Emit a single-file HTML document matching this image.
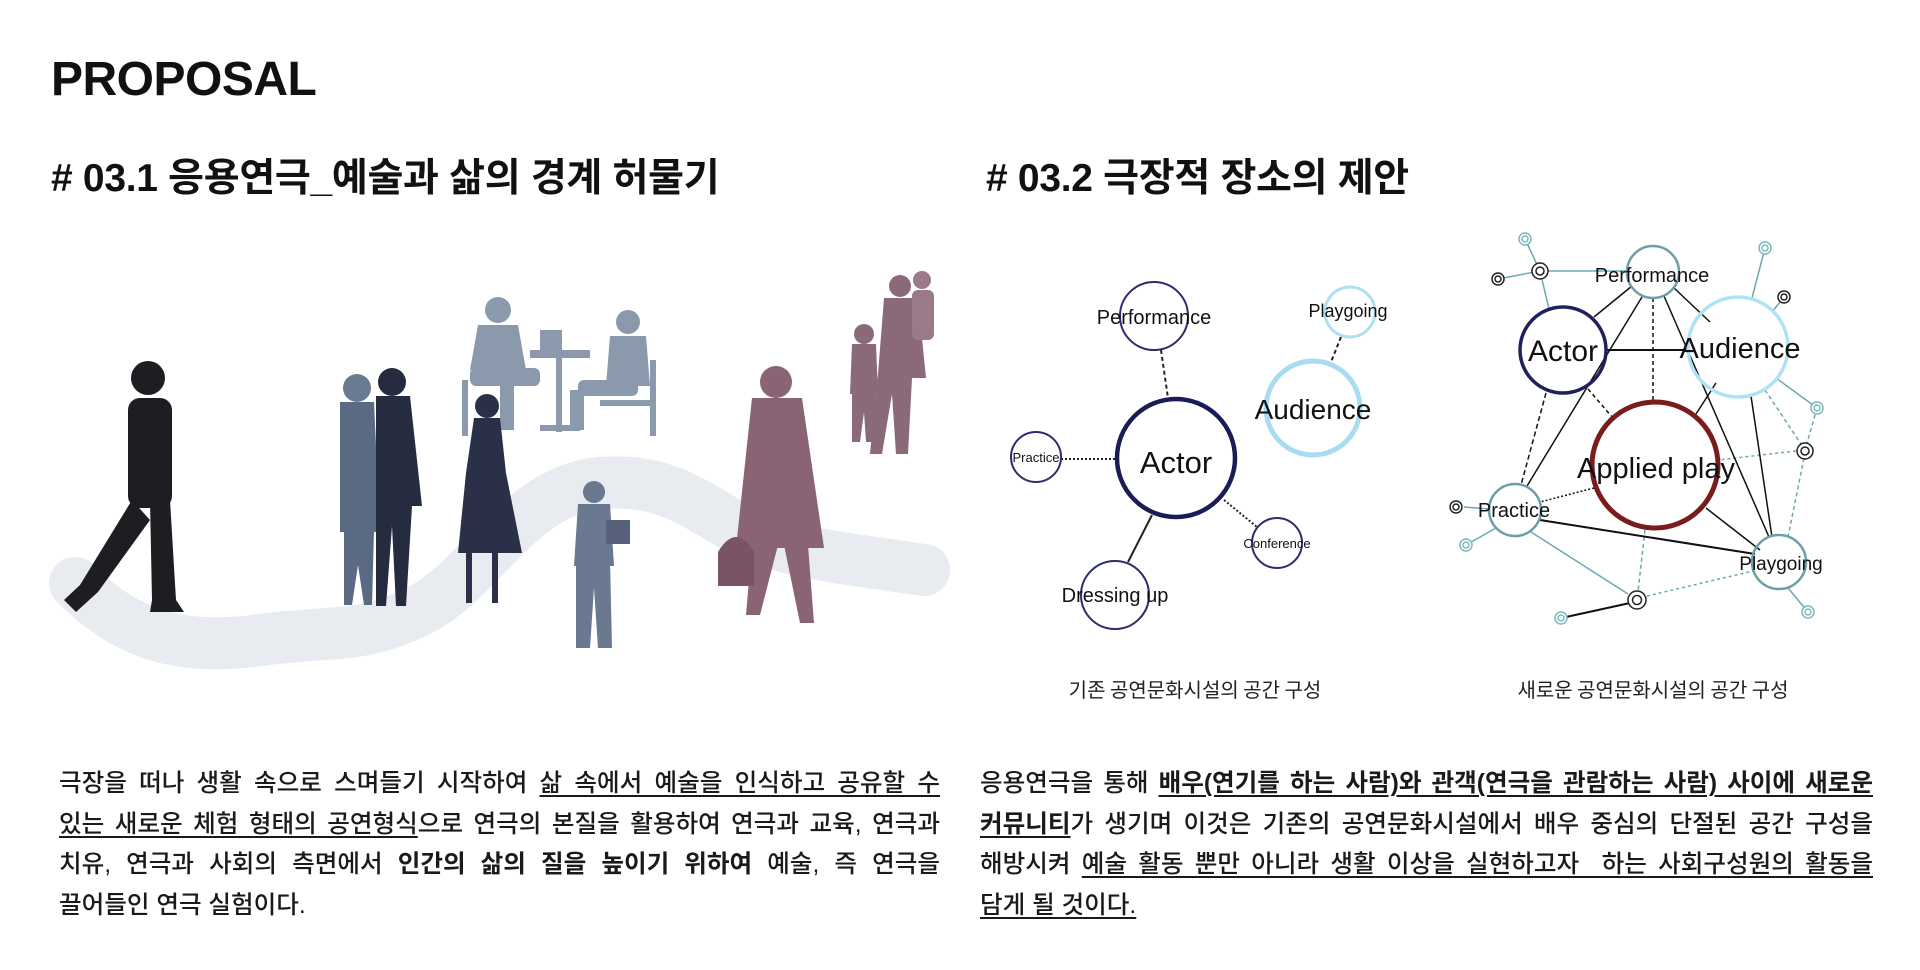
<!DOCTYPE html>
<html><head><meta charset="utf-8">
<style>
html,body{margin:0;padding:0;background:#fff;}
body{width:1920px;height:970px;position:relative;overflow:hidden;font-family:"Liberation Sans","Noto Sans CJK KR",sans-serif;color:#111;}
.h1{position:absolute;left:51px;top:52px;font-size:48px;font-weight:bold;letter-spacing:-0.5px;}
.h2{position:absolute;top:147px;font-size:39px;font-weight:bold;letter-spacing:-0.3px;font-family:"Liberation Sans","Noto Sans CJK KR",sans-serif;}
.para{position:absolute;top:764px;font-size:24.6px;line-height:40.5px;font-weight:500;letter-spacing:0;font-family:"Liberation Sans","Noto Sans CJK KR",sans-serif;color:#1a1a1a;}
.para div{text-align:justify;text-align-last:justify;white-space:nowrap;}
.para div.last{text-align-last:left;}
.para u{text-decoration:underline;text-decoration-thickness:1.5px;text-underline-offset:4px;}
svg text{font-family:"Liberation Sans",sans-serif;}
</style></head><body>
<div class="h1">PROPOSAL</div>
<div class="h2" style="left:51px;"># 03.1 응용연극_예술과 삶의 경계 허물기</div>
<div class="h2" style="left:986px;"># 03.2 극장적 장소의 제안</div>

<svg width="1920" height="970" style="position:absolute;left:0;top:0">
<path d="M75,583 C130,640 190,650 260,640 C330,630 360,640 420,610 C480,580 520,490 600,483 C660,478 690,500 740,530 C790,555 860,560 924,570" fill="none" stroke="#e6e9ed" stroke-width="52" stroke-linecap="round" opacity="0.9"/>
<g fill="#8a9aac">
<circle cx="498" cy="310" r="13"/><path d="M478,325 h40 l8,45 h-56z"/><rect x="470" y="368" width="70" height="18" rx="6"/><rect x="500" y="380" width="14" height="50"/>
<circle cx="628" cy="322" r="12"/><path d="M610,336 h36 l4,50 h-44z"/><rect x="578" y="380" width="60" height="16" rx="6"/><rect x="570" y="390" width="14" height="40"/>
<rect x="530" y="350" width="60" height="8"/><rect x="556" y="356" width="6" height="76"/><rect x="540" y="425" width="40" height="6"/>
<rect x="462" y="380" width="6" height="56"/><rect x="650" y="360" width="6" height="76"/><rect x="600" y="400" width="55" height="6"/>
<rect x="540" y="330" width="22" height="22"/>
</g>
<g fill="#1e1e22">
<circle cx="148" cy="378" r="17"/><rect x="128" y="398" width="44" height="110" rx="12"/>
<path d="M132,500 L80,585 L64,600 L76,612 L98,592 L150,520z"/><path d="M150,500 L170,500 L176,600 L184,612 L150,612 L152,600z"/>
</g>
<g>
<circle cx="357" cy="388" r="14" fill="#6a7a90"/><path d="M340,402 h34 l6,130 h-40z" fill="#5a6a82"/><path d="M344,530 h30 l-2,75 h-8 l-6,-40 l-6,40 h-8z" fill="#5a6a82"/>
<circle cx="392" cy="382" r="14" fill="#262c40"/><path d="M376,396 h34 l12,110 h-10 l-6,100 h-10 l-4,-80 l-6,80 h-10 l0,-110 z" fill="#262c40"/>
</g>
<g fill="#2a3048">
<circle cx="487" cy="406" r="12"/><path d="M474,418 h26 l6,55 l16,80 h-64 l8,-80z"/><rect x="466" y="553" width="6" height="50"/><rect x="492" y="553" width="6" height="50"/>
</g>
<g fill="#6a7890">
<circle cx="594" cy="492" r="11"/><path d="M578,504 h32 l4,62 h-40z"/><path d="M576,560 h34 l2,88 h-14 l-4,-60 l-4,60 h-14z"/>
<rect x="606" y="520" width="24" height="24" fill="#56607a"/>
</g>
<g fill="#8a6474">
<circle cx="776" cy="382" r="16"/><path d="M752,398 h50 l22,150 h-88z"/><path d="M752,545 h26 l-18,70 l-14,0z"/><path d="M784,545 h24 l6,78 h-14z"/>
<path d="M718,552 q18,-30 36,0 v34 h-36z" fill="#7a5464"/>
</g>
<g fill="#8a6a7a">
<circle cx="900" cy="286" r="11"/><path d="M884,298 h34 l8,80 h-14 l-4,76 h-12 l-4,-60 l-10,60 h-12 l8,-80z"/>
<circle cx="922" cy="280" r="9" fill="#9a7a88"/><rect x="912" y="290" width="22" height="50" rx="6" fill="#9a7a88"/>
<circle cx="864" cy="334" r="10"/><path d="M852,344 h24 l2,50 h-28z"/><path d="M852,392 h24 l-2,50 h-8 l-2,-30 l-4,30 h-8z"/>
</g>

<g fill="none">
<line x1="1161" y1="350" x2="1168" y2="398" stroke="#222" stroke-width="2" stroke-dasharray="4,3"/>
<line x1="1341" y1="337" x2="1331" y2="362" stroke="#222" stroke-width="2" stroke-dasharray="4,3"/>
<line x1="1061" y1="459" x2="1116" y2="459" stroke="#222" stroke-width="2" stroke-dasharray="2,2"/>
<line x1="1224" y1="500" x2="1257" y2="527" stroke="#222" stroke-width="2" stroke-dasharray="2,2"/>
<line x1="1152" y1="515" x2="1128" y2="562" stroke="#222" stroke-width="2"/>
<circle cx="1154" cy="316" r="34" stroke="#2b2d6e" stroke-width="2"/>
<circle cx="1176" cy="458" r="59" stroke="#1a1c55" stroke-width="4.5"/>
<circle cx="1350" cy="312" r="25" stroke="#aee0f2" stroke-width="3"/>
<circle cx="1313" cy="408" r="47" stroke="#a9dcf0" stroke-width="5"/>
<circle cx="1036" cy="457" r="25" stroke="#2b2d6e" stroke-width="2"/>
<circle cx="1277" cy="543" r="25" stroke="#2b2d6e" stroke-width="2"/>
<circle cx="1115" cy="595" r="34" stroke="#2b2d6e" stroke-width="2"/>
</g>
<g fill="#111" text-anchor="middle">
<text x="1154" y="324" font-size="20">Performance</text>
<text x="1176" y="473" font-size="31">Actor</text>
<text x="1348" y="317" font-size="18">Playgoing</text>
<text x="1313" y="419" font-size="28">Audience</text>
<text x="1036" y="462" font-size="13">Practice</text>
<text x="1277" y="548" font-size="13">Conference</text>
<text x="1115" y="602" font-size="20">Dressing up</text>
</g>
<text x="1195" y="697" font-size="20" text-anchor="middle" style="font-family:'Noto Sans CJK KR',sans-serif" fill="#222">기존 공연문화시설의 공간 구성</text>

<g fill="none" stroke="#6aa8b2" stroke-width="1.5">
<line x1="1525" y1="239" x2="1540" y2="271"/>
<line x1="1498" y1="279" x2="1540" y2="271"/>
<line x1="1540" y1="271" x2="1627" y2="271"/>
<line x1="1540" y1="271" x2="1549" y2="309"/>
<line x1="1765" y1="248" x2="1752" y2="298"/>
<line x1="1784" y1="297" x2="1772" y2="312"/>
<line x1="1776" y1="378" x2="1817" y2="408"/>
<line x1="1765" y1="390" x2="1805" y2="450" stroke-dasharray="4,3"/>
<line x1="1817" y1="408" x2="1805" y2="450" stroke-dasharray="4,3"/>
<line x1="1796" y1="451" x2="1718" y2="460" stroke-dasharray="3,3"/>
<line x1="1804" y1="458" x2="1788" y2="537" stroke-dasharray="4,3"/>
<line x1="1464" y1="507" x2="1489" y2="509"/>
<line x1="1466" y1="545" x2="1496" y2="528"/>
<line x1="1531" y1="532" x2="1628" y2="594"/>
<line x1="1645" y1="530" x2="1638" y2="592" stroke-dasharray="4,3"/>
<line x1="1647" y1="596" x2="1753" y2="571" stroke-dasharray="3,3"/>
<line x1="1788" y1="588" x2="1808" y2="612"/>
</g>
<g fill="none" stroke="#111" stroke-width="1.5">
<line x1="1632" y1="286" x2="1594" y2="317"/>
<line x1="1653" y1="298" x2="1653" y2="402" stroke-dasharray="4,3"/>
<line x1="1642" y1="297" x2="1527" y2="486"/>
<line x1="1674" y1="288" x2="1710" y2="322"/>
<line x1="1664" y1="296" x2="1769" y2="537"/>
<line x1="1606" y1="350" x2="1690" y2="350" stroke-width="2"/>
<line x1="1588" y1="389" x2="1613" y2="418" stroke-dasharray="4,3"/>
<line x1="1546" y1="393" x2="1521" y2="485" stroke-dasharray="5,3"/>
<line x1="1716" y1="383" x2="1696" y2="414"/>
<line x1="1751" y1="396" x2="1772" y2="537"/>
<line x1="1706" y1="508" x2="1760" y2="550"/>
<line x1="1594" y1="488" x2="1540" y2="502" stroke-dasharray="2,2"/>
<line x1="1540" y1="520" x2="1755" y2="554" stroke-width="2"/>
<line x1="1630" y1="603" x2="1566" y2="617" stroke-width="2"/>
</g>
<g>
<circle cx="1653" cy="272" r="26" stroke="#6aa0a8" stroke-width="2.5" fill="none"/>
<circle cx="1563" cy="350" r="43" stroke="#1f205c" stroke-width="3.5" fill="none"/>
<circle cx="1738" cy="347" r="50" stroke="#aee2f4" stroke-width="3.5" fill="none"/>
<circle cx="1655" cy="465" r="63" stroke="#7a1c1c" stroke-width="5" fill="none"/>
<circle cx="1515" cy="510" r="26" stroke="#6aa0a8" stroke-width="2.5" fill="none"/>
<circle cx="1779" cy="562" r="27" stroke="#6aa0a8" stroke-width="2.5" fill="none"/>
</g>
<g fill="#fff" stroke-width="1.5">
<g stroke="#222"><circle cx="1540" cy="271" r="8"/><circle cx="1540" cy="271" r="4"/></g>
<g stroke="#222"><circle cx="1498" cy="279" r="6"/><circle cx="1498" cy="279" r="3"/></g>
<g stroke="#222"><circle cx="1784" cy="297" r="6"/><circle cx="1784" cy="297" r="3"/></g>
<g stroke="#222"><circle cx="1805" cy="451" r="8"/><circle cx="1805" cy="451" r="4"/></g>
<g stroke="#222"><circle cx="1456" cy="507" r="6"/><circle cx="1456" cy="507" r="3"/></g>
<g stroke="#222"><circle cx="1637" cy="600" r="9"/><circle cx="1637" cy="600" r="4.5"/></g>
<g stroke="#7ab8c0"><circle cx="1525" cy="239" r="6"/><circle cx="1525" cy="239" r="3"/></g>
<g stroke="#7ab8c0"><circle cx="1765" cy="248" r="6"/><circle cx="1765" cy="248" r="3"/></g>
<g stroke="#7ab8c0"><circle cx="1817" cy="408" r="6"/><circle cx="1817" cy="408" r="3"/></g>
<g stroke="#7ab8c0"><circle cx="1466" cy="545" r="6"/><circle cx="1466" cy="545" r="3"/></g>
<g stroke="#7ab8c0"><circle cx="1561" cy="618" r="6"/><circle cx="1561" cy="618" r="3"/></g>
<g stroke="#7ab8c0"><circle cx="1808" cy="612" r="6"/><circle cx="1808" cy="612" r="3"/></g>
</g>
<g fill="#111" text-anchor="middle">
<text x="1652" y="282" font-size="20">Performance</text>
<text x="1563" y="361" font-size="30">Actor</text>
<text x="1740" y="358" font-size="29">Audience</text>
<text x="1656" y="478" font-size="29">Applied play</text>
<text x="1514" y="517" font-size="20">Practice</text>
<text x="1781" y="570" font-size="19">Playgoing</text>
</g>
<text x="1653" y="697" font-size="20" text-anchor="middle" style="font-family:'Noto Sans CJK KR',sans-serif" fill="#222">새로운 공연문화시설의 공간 구성</text>
</svg>

<div class="para" style="left:59px;width:881px;">
<div>극장을 떠나 생활 속으로 스며들기 시작하여 <u>삶 속에서 예술을 인식하고 공유할 수</u></div>
<div><u>있는 새로운 체험 형태의 공연형식</u>으로 연극의 본질을 활용하여 연극과 교육, 연극과</div>
<div>치유, 연극과 사회의 측면에서 <b>인간의 삶의 질을 높이기 위하여</b> 예술, 즉 연극을</div>
<div class="last">끌어들인 연극 실험이다.</div>
</div>
<div class="para" style="left:980px;width:893px;">
<div>응용연극을 통해 <b><u>배우(연기를 하는 사람)와 관객(연극을 관람하는 사람) 사이에 새로운</u></b></div>
<div><b><u>커뮤니티</u></b>가 생기며 이것은 기존의 공연문화시설에서 배우 중심의 단절된 공간 구성을</div>
<div>해방시켜 <u>예술 활동 뿐만 아니라 생활 이상을 실현하고자&nbsp; 하는 사회구성원의 활동을</u></div>
<div class="last"><u>담게 될 것이다.</u></div>
</div>
</body></html>
